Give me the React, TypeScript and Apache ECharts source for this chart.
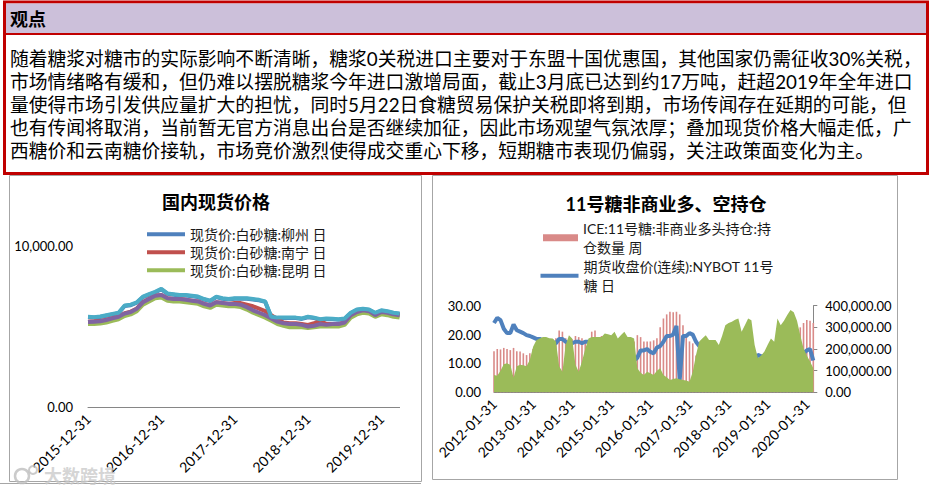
import React, { useEffect, useRef } from 'react';
import * as echarts from 'echarts';

const FONT = "Lato, 'Noto Sans CJK SC', sans-serif";
const CJK = "'Noto Sans CJK SC', sans-serif";

const headerTitle = '观点';
const paragraphLines = [
  '随着糖浆对糖市的实际影响不断清晰，糖浆0关税进口主要对于东盟十国优惠国，其他国家仍需征收30%关税，',
  '市场情绪略有缓和，但仍难以摆脱糖浆今年进口激增局面，截止3月底已达到约17万吨，赶超2019年全年进口',
  '量使得市场引发供应量扩大的担忧，同时5月22日食糖贸易保护关税即将到期，市场传闻存在延期的可能，但',
  '也有传闻将取消，当前暂无官方消息出台是否继续加征，因此市场观望气氛浓厚；叠加现货价格大幅走低，广',
  '西糖价和云南糖价接轨，市场竞价激烈使得成交重心下移，短期糖市表现仍偏弱，关注政策面变化为主。',
];

const leftTitle = '国内现货价格';
const rightTitle = '11号糖非商业多、空持仓';

// Left chart: monthly, 2015-12 .. 2020-03
const spotStartYear = 2015;
const spotStartMonth = 12;
const spotNames = ['现货价:白砂糖:柳州 日', '现货价:白砂糖:南宁 日', '现货价:白砂糖:昆明 日', '系列4', '系列5'];
const spotLiuzhou = [5570, 5550, 5590, 5670, 5750, 5820, 6270, 6320, 6470, 6820, 6970, 7120, 7300,
  7020, 6970, 6920, 6920, 6870, 6820, 6670, 6570, 6820, 6720, 6670, 6720,
  6720, 6720, 6670, 6620, 6520, 5570, 5520, 5520, 5520, 5520, 5470, 5570,
  5520, 5420, 5470, 5450, 5420, 5470, 5820, 6020, 6070, 6020, 5820, 5970,
  5920, 5820, 5770];
const spotNanning = [5300, 5320, 5350, 5420, 5520, 5620, 5820, 5920, 6120, 6520, 6720, 6900, 6950,
  6750, 6700, 6700, 6650, 6600, 6550, 6400, 6300, 6500, 6450, 6400, 6450,
  6450, 6350, 6250, 6100, 5950, 5700, 5450, 5250, 5200, 5200, 5150, 5100,
  5200, 5350, 5150, 5150, 5150, 5250, 5700, 5900, 6000, 5950, 5700, 5900,
  5850, 5750, 5700];
const spotKunming = [5150, 5150, 5180, 5250, 5350, 5450, 5650, 5750, 5950, 6350, 6550, 6750, 6800,
  6600, 6550, 6550, 6500, 6450, 6400, 6250, 6150, 6350, 6300, 6250, 6250,
  6200, 6050, 5850, 5700, 5550, 5350, 5150, 5050, 4950, 4950, 4950, 4900,
  4950, 5000, 5000, 5000, 5000, 5100, 5550, 5750, 5850, 5800, 5600, 5750,
  5700, 5600, 5550];
const spotSeries4 = [5280, 5300, 5320, 5400, 5500, 5600, 5800, 5900, 6100, 6500, 6700, 6900, 6950,
  6750, 6700, 6700, 6650, 6600, 6550, 6400, 6300, 6500, 6450, 6400, 6400,
  6350, 6200, 6000, 5850, 5700, 5500, 5300, 5200, 5150, 5150, 5100, 5000,
  5050, 5150, 5100, 5150, 5150, 5250, 5700, 5900, 6000, 5950, 5700, 5900,
  5850, 5750, 5700];
const spotSeries5 = [5600, 5580, 5620, 5700, 5780, 5850, 6300, 6350, 6500, 6850, 7000, 7150, 7330,
  7050, 7000, 6950, 6950, 6900, 6850, 6700, 6600, 6850, 6750, 6700, 6750,
  6750, 6750, 6700, 6650, 6550, 5600, 5550, 5550, 5550, 5550, 5500, 5600,
  5550, 5450, 5500, 5480, 5450, 5500, 5850, 6050, 6100, 6050, 5850, 6000,
  5950, 5850, 5800];
const spotColors = ['#4f81bd', '#c0504d', '#9bbb59', '#8064a2', '#4bacc6'];

// Right chart: monthly, 2012-01 .. 2020-03
const cotStartYear = 2012;
const cotStartMonth = 1;
const longName = 'ICE:11号糖:非商业多头持仓:持仓数量 周';
const priceName = '期货收盘价(连续):NYBOT 11号糖 日';
const shortName = 'ICE:11号糖:非商业空头持仓:持仓数量 周';
const legendText: Record<string, string> = {
  [longName]: 'ICE:11号糖:非商业多头持仓:持\n仓数量 周',
  [priceName]: '期货收盘价(连续):NYBOT 11号\n糖 日',
};
const cotLong = [
  190, 200, 198, 205, 200, 195, 205, 190, 188, 180, 172, 180,
  200, 210, 220, 230, 235, 240, 245, 250, 285, 280, 250, 240,
  245, 260, 255, 250, 240, 240, 280, 285, 255, 260, 265, 260,
  250, 255, 240, 250, 255, 245, 240, 235, 264, 255, 235, 235,
  235, 240, 250, 300, 341, 360, 372, 370, 372, 360, 310, 270,
  235, 226, 170, 150, 130, 110, 100, 110, 120, 130, 140, 150,
  150, 140, 120, 110, 100, 100, 110, 120, 130, 140, 150, 150,
  160, 170, 180, 170, 160, 150, 150, 160, 180, 280, 300, 320,
  334, 330, 320,
].map((v) => v * 1000);
const cotShort = [
  80, 77, 100, 130, 134, 127, 67, 120, 127, 125, 120, 150,
  210, 240, 249, 256, 256, 250, 249, 235, 120, 95, 218, 264,
  249, 127, 95, 142, 200, 249, 256, 256, 256, 256, 272, 268,
  264, 280, 249, 265, 280, 256, 255, 249, 111, 90, 80, 95,
  88, 80, 100, 111, 80, 70, 57, 62, 65, 60, 57, 55,
  49, 95, 172, 235, 250, 264, 241, 241, 241, 218, 260, 310,
  320, 326, 335, 341, 280, 310, 341, 333, 218, 157, 170, 188,
  220, 249, 234, 341, 310, 330, 357, 380, 370, 330, 264, 203,
  170, 142, 111,
].map((v) => v * 1000);
const sugarPrice = [
  24, 25.8, 25, 22, 20.5, 20.5, 23.5, 21.5, 21, 20.5, 19.8, 19.5,
  19, 18.5, 18.5, 18, 17.5, 17, 17, 17, 18.5, 18.5, 17.5, 17,
  17, 17.5, 17.5, 17, 17.5, 17.5, 17, 16, 15, 16, 16, 15,
  15, 14.5, 13, 13, 13, 12, 12, 11, 12, 14.5, 14.5, 15,
  14, 13.5, 15.5, 16, 17.5, 19.5, 19.5, 20, 23, 4.2, 19.5, 19.5,
  20.5, 20, 17.5, 16, 15.5, 13.5, 14, 14, 14, 14.5, 15, 14.5,
  13.5, 13.5, 12.5, 11.5, 12, 12, 11, 10.5, 11, 13, 12.5, 12.5,
  12.5, 13, 12.5, 12.5, 12, 12.5, 12, 11.5, 12.5, 12.5, 12.5, 13.5,
  14.5, 15, 11,
];

const leftAxisTicks = { min: 0, max: 10000, interval: 10000 };
const priceAxisTicks = { min: 0, max: 30, interval: 10 };
const posAxisTicks = { min: 0, max: 400000, interval: 100000 };

function monthEnds(y0: number, m0: number, n: number): string[] {
  const out: string[] = [];
  for (let i = 0; i < n; i++) {
    const k = m0 - 1 + i;
    const y = y0 + Math.floor(k / 12);
    const m = (k % 12) + 1;
    const d = new Date(Date.UTC(y, m, 0)).getUTCDate();
    out.push(`${y}-${String(m).padStart(2, '0')}-${String(d).padStart(2, '0')}`);
  }
  return out;
}

const spotDates = monthEnds(spotStartYear, spotStartMonth, spotSeries5.length);
const cotDates = monthEnds(cotStartYear, cotStartMonth, sugarPrice.length);

const fmt = (v: number) =>
  v.toLocaleString('en-US', { minimumFractionDigits: 2, maximumFractionDigits: 2 });

export default function App() {
  const ref = useRef<HTMLDivElement>(null);
  useEffect(() => {
    if (!ref.current) return;
    const chart = echarts.init(ref.current, undefined, { renderer: 'svg' });
    const spotData = [spotLiuzhou, spotNanning, spotKunming, spotSeries4, spotSeries5];
    const axisLabelBase = { color: '#000', fontFamily: FONT };
    const option: any = {
      animation: false,
      backgroundColor: '#ffffff',
      textStyle: { fontFamily: FONT },
      grid: [
        { left: 88, right: 531.4, top: 245.7, bottom: 83.7 },
        { left: 494, right: 117.7, top: 305.7, bottom: 98.7 },
      ],
      xAxis: [
        {
          type: 'category', gridIndex: 0, data: spotDates, boundaryGap: false,
          axisLine: { show: true, lineStyle: { color: '#868686', width: 1 } },
          axisTick: { show: false },
          axisLabel: { ...axisLabelBase, fontSize: 14, rotate: 45, margin: 9,
            interval: (i: number, v: string) => v.endsWith('-12-31') },
          splitLine: { show: false },
        },
        {
          type: 'category', gridIndex: 1, data: cotDates, boundaryGap: false,
          axisLine: { show: true, lineStyle: { color: '#868686', width: 1 } },
          axisTick: { show: false },
          axisLabel: { ...axisLabelBase, fontSize: 14, rotate: 45, margin: 9,
            interval: (i: number, v: string) => v.endsWith('-01-31') },
          splitLine: { show: false },
        },
      ],
      yAxis: [
        {
          type: 'value', gridIndex: 0, ...leftAxisTicks,
          axisLine: { show: false }, axisTick: { show: false }, splitLine: { show: false },
          axisLabel: { ...axisLabelBase, fontSize: 13, margin: 15, formatter: fmt },
        },
        {
          type: 'value', gridIndex: 1, position: 'left', ...priceAxisTicks,
          axisLine: { show: false }, axisTick: { show: false }, splitLine: { show: false },
          axisLabel: { ...axisLabelBase, fontSize: 13, margin: 13, formatter: fmt },
        },
        {
          type: 'value', gridIndex: 1, position: 'right', ...posAxisTicks,
          axisLine: { show: true, lineStyle: { color: '#868686', width: 1 } },
          axisTick: { show: true, length: 4, lineStyle: { color: '#868686' } },
          splitLine: { show: false },
          axisLabel: { ...axisLabelBase, fontSize: 13, margin: 12, formatter: fmt },
        },
      ],
      legend: [
        {
          data: spotNames.slice(0, 3), orient: 'vertical', left: 147, top: 227.3,
          itemWidth: 38, itemHeight: 4, itemGap: 4, icon: 'rect', padding: 0,
          selectedMode: false,
          textStyle: { fontSize: 14, color: '#1a1a1a', fontFamily: FONT, lineHeight: 14 },
        },
        {
          data: [longName], orient: 'vertical', left: 543, top: 209.2,
          itemWidth: 35, itemHeight: 7, icon: 'rect', padding: 0, selectedMode: false,
          formatter: (n: string) => legendText[n] || n,
          textStyle: { fontSize: 14, color: '#1a1a1a', fontFamily: FONT, lineHeight: 19, padding: [19, 0, 0, 0] },
        },
        {
          data: [priceName], orient: 'vertical', left: 540.5, top: 247.2,
          itemWidth: 38, itemHeight: 4, icon: 'rect', padding: 0, selectedMode: false,
          formatter: (n: string) => legendText[n] || n,
          textStyle: { fontSize: 14, color: '#1a1a1a', fontFamily: FONT, lineHeight: 19, padding: [19, 0, 0, 0] },
        },
      ],
      series: [
        ...spotNames.map((name, i) => ({
          name, type: 'line', xAxisIndex: 0, yAxisIndex: 0, data: spotData[i],
          symbol: 'none', color: spotColors[i], lineStyle: { width: 4, color: spotColors[i] },
        })),
        {
          name: longName, type: 'bar', xAxisIndex: 1, yAxisIndex: 2, data: cotLong, z: 2,
          barWidth: 1.6, color: '#c0504d', itemStyle: { color: '#d98a88' },
        },
        {
          name: priceName, type: 'line', xAxisIndex: 1, yAxisIndex: 1, data: sugarPrice, z: 3,
          symbol: 'none', color: '#4f81bd', lineStyle: { width: 4, color: '#4f81bd' },
        },
        {
          name: shortName, type: 'line', xAxisIndex: 1, yAxisIndex: 2, data: cotShort, z: 4,
          symbol: 'none', color: '#9bbb59', lineStyle: { width: 0, color: '#9bbb59' },
          areaStyle: { color: '#9bbb59', opacity: 1 },
        },
      ],
      graphic: [
        // chart frames
        { type: 'rect', z: 1, shape: { x: 9.5, y: 175.5, width: 412, height: 306 }, style: { fill: 'none', stroke: '#a6a6a6', lineWidth: 1 } },
        { type: 'rect', z: 1, shape: { x: 432.5, y: 175.5, width: 465, height: 304 }, style: { fill: 'none', stroke: '#a6a6a6', lineWidth: 1 } },
        { type: 'line', z: 1, shape: { x1: 0, y1: 483.5, x2: 421, y2: 483.5 }, style: { stroke: '#a6a6a6', lineWidth: 1 } },
        // header box
        { type: 'rect', z: 10, shape: { x: 4.5, y: 2, width: 923, height: 171.5 }, style: { fill: '#ffffff', stroke: '#c00000', lineWidth: 3 } },
        { type: 'rect', z: 11, shape: { x: 6, y: 3.5, width: 920, height: 29.5 }, style: { fill: '#ccc0da' } },
        { type: 'line', z: 11, shape: { x1: 6, y1: 34, x2: 926, y2: 34 }, style: { stroke: '#c00000', lineWidth: 2 } },
        { type: 'text', z: 12, x: 10, y: 18, style: { text: headerTitle, fill: '#000', font: `bold 18px ${CJK}`, align: 'left', verticalAlign: 'middle', textAlign: 'left', textVerticalAlign: 'middle' } },
        ...paragraphLines.map((t, i) => ({
          type: 'text', z: 12, x: 10, y: 58 + i * 23,
          style: { text: t, fill: '#000', font: `18.8px ${FONT}`, lineHeight: 20, align: 'left', verticalAlign: 'middle', textAlign: 'left', textVerticalAlign: 'middle' },
        })),
        // chart titles
        { type: 'text', z: 5, x: 216, y: 201.7, style: { text: leftTitle, fill: '#000', font: `bold 18px ${FONT}`, align: 'center', verticalAlign: 'middle', textAlign: 'center', textVerticalAlign: 'middle' } },
        { type: 'text', z: 5, x: 666, y: 204.3, style: { text: rightTitle, fill: '#000', font: `bold 18px ${FONT}`, align: 'center', verticalAlign: 'middle', textAlign: 'center', textVerticalAlign: 'middle' } },
        // watermark
        { type: 'circle', z: 20, shape: { cx: 22, cy: 476, r: 7 }, style: { fill: 'none', stroke: 'rgba(190,190,190,0.8)', lineWidth: 2.5 } },
        { type: 'circle', z: 20, shape: { cx: 33, cy: 470, r: 4 }, style: { fill: 'none', stroke: 'rgba(190,190,190,0.8)', lineWidth: 2 } },
        { type: 'text', z: 20, x: 44, y: 476, style: { text: '大数跨境', fill: 'rgba(200,200,200,0.75)', font: `bold 18px ${FONT}`, align: 'left', verticalAlign: 'middle', textAlign: 'left', textVerticalAlign: 'middle' } },
      ],
    };
    chart.setOption(option);
    return () => chart.dispose();
  }, []);
  return <div ref={ref} style={{ position: 'absolute', left: 0, top: 0, width: 931, height: 491 }} />;
}
